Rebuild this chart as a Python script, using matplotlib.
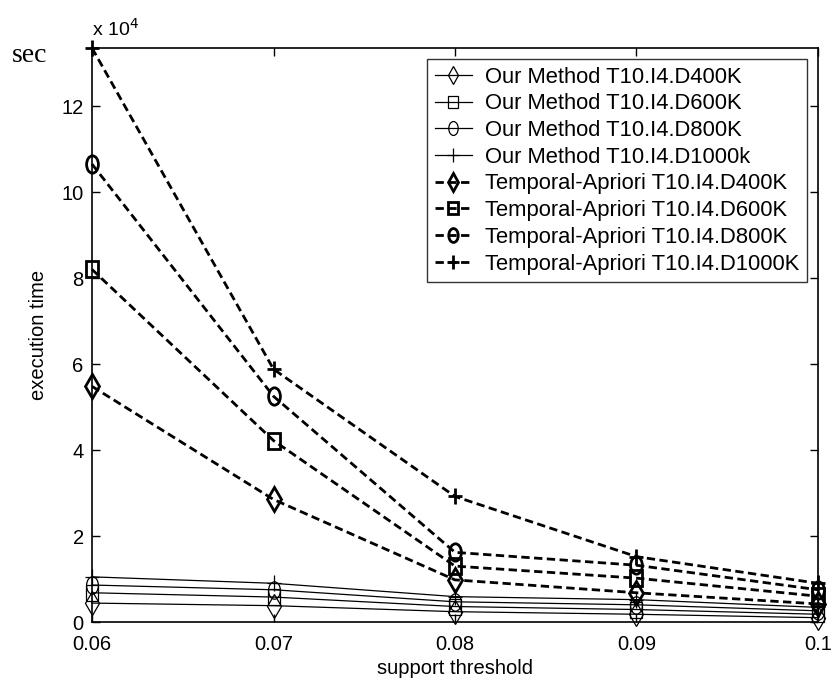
import matplotlib
matplotlib.use("Agg")
import matplotlib.pyplot as plt
from matplotlib.markers import MarkerStyle
from matplotlib.transforms import Affine2D
from matplotlib.ticker import FuncFormatter

plt.rcParams['font.family'] = ['Liberation Sans', 'DejaVu Sans']

support = [0.06, 0.07, 0.08, 0.09, 0.10]
scale = 1e4
# values in units of 1e4 sec
om_400k = [0.44, 0.38, 0.24, 0.18, 0.10]
om_600k = [0.68, 0.58, 0.36, 0.29, 0.18]
om_800k = [0.86, 0.75, 0.47, 0.40, 0.26]
om_1000k = [1.05, 0.90, 0.59, 0.52, 0.34]
ta_400k = [5.48, 2.85, 0.98, 0.68, 0.42]
ta_600k = [8.20, 4.22, 1.30, 1.02, 0.60]
ta_800k = [10.65, 5.25, 1.62, 1.32, 0.75]
ta_1000k = [13.35, 5.88, 2.92, 1.52, 0.90]

labels = ["Our Method T10.I4.D400K", "Our Method T10.I4.D600K",
          "Our Method T10.I4.D800K", "Our Method T10.I4.D1000k",
          "Temporal-Apriori T10.I4.D400K", "Temporal-Apriori T10.I4.D600K",
          "Temporal-Apriori T10.I4.D800K", "Temporal-Apriori T10.I4.D1000K"]
xticks = [0.06, 0.07, 0.08, 0.09, 0.10]
xticklabels = ["0.06", "0.07", "0.08", "0.09", "0.1"]
yticks = [0, 2, 4, 6, 8, 10, 12]

def mk(m, sx, sy):
    return MarkerStyle(m, transform=Affine2D().scale(sx, sy))

markers = [mk('D', 0.7, 1.2), mk('s', 0.9, 1.15), mk('o', 0.85, 1.25), mk('+', 1.0, 1.2)]

fig = plt.figure(figsize=(8.32, 6.8), dpi=100)
ax = fig.add_axes([92/832, 1-622/680, 726/832, 574/680])

om = [om_400k, om_600k, om_800k, om_1000k]
ta = [ta_400k, ta_600k, ta_800k, ta_1000k]
for i, ys in enumerate(om):
    ax.plot(support, [v*scale for v in ys], color='black', lw=0.9,
            marker=markers[i], ms=10, mfc='none', mec='black', mew=0.9,
            label=labels[i], clip_on=False, zorder=3)
for i, ys in enumerate(ta):
    ax.plot(support, [v*scale for v in ys], color='black', lw=2.0,
            dashes=(3.0, 1.6), marker=markers[i], ms=10, mfc='none',
            mec='black', mew=2.0, label=labels[4+i], clip_on=False, zorder=3)

ax.set_xlim(0.06, 0.10)
ax.set_ylim(0, max(ta_1000k)*scale)
ax.set_xticks(xticks)
ax.set_xticklabels(xticklabels)
ax.set_yticks([t*scale for t in yticks])
ax.yaxis.set_major_formatter(FuncFormatter(lambda v, p: f"{v/scale:g}"))
ax.tick_params(direction='in', length=6, width=1, labelsize=14.5,
               top=True, right=True)
ax.tick_params(axis='x', pad=9)
ax.tick_params(axis='y', pad=6)
for s in ax.spines.values():
    s.set_linewidth(1.2)

ax.set_xlabel("support threshold", fontsize=14.5, labelpad=4)
ax.set_ylabel("execution time", fontsize=14.5, labelpad=10)

fig.text(92/832, 1-36/680, r"x 10$^4$", fontsize=14, ha='left', va='baseline')
fig.text(12/832, 1-55/680, "sec", fontsize=20, family='Liberation Serif',
         ha='left', va='center')

leg = ax.legend(loc='upper right', bbox_to_anchor=(0.985, 0.981),
                borderaxespad=0, fontsize=15.8, frameon=True, fancybox=False,
                edgecolor='black', handlelength=1.7, handletextpad=0.6,
                labelspacing=0.26, borderpad=0.35, markerscale=0.8)
leg.get_frame().set_linewidth(1.0)
leg.set_zorder(5)

fig.savefig("out.png", dpi=100)
